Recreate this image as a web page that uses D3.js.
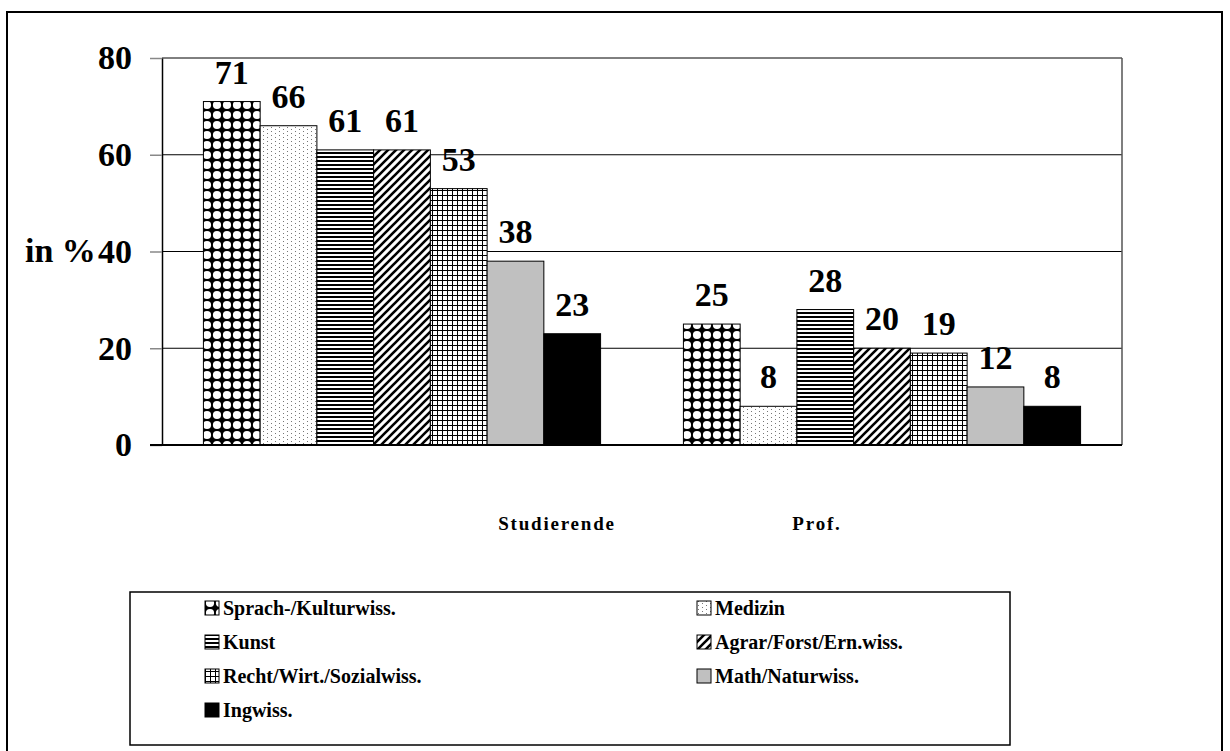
<!DOCTYPE html>
<html>
<head>
<meta charset="utf-8">
<script src="https://cdn.jsdelivr.net/npm/d3@7"></script>
<style>
  body { margin: 0; background: #fff; }
  svg text { font-family: "Liberation Serif", "Times New Roman", serif; font-weight: bold; }
</style>
</head>
<body>
<div class="vis-barchart"></div>
<script>
const categories = ['Studierende', 'Prof.'];
const series = ['Sprach-/Kulturwiss.', 'Medizin', 'Kunst', 'Agrar/Forst/Ern.wiss.',
  'Recht/Wirt./Sozialwiss.', 'Math/Naturwiss.', 'Ingwiss.'];
const studierende = [71, 66, 61, 61, 53, 38, 23];
const prof = [25, 8, 28, 20, 19, 12, 8];
const yTicks = [0, 20, 40, 60, 80];

const values = [studierende, prof];
const data = categories.map((c, i) => ({
  category: c,
  bars: series.map((s, j) => ({ series: s, value: values[i][j] }))
}));

const width = 1230;
const height = 751;
const plot = { left: 162, right: 1122, top: 58, bottom: 445 };

const svg = d3.select('.vis-barchart')
  .append('svg')
  .attr('width', width)
  .attr('height', height);

// fill patterns, one per series
const defs = svg.append('defs');
const pat = (id, w, h) => defs.append('pattern')
  .attr('id', id).attr('patternUnits', 'userSpaceOnUse')
  .attr('width', w).attr('height', h);

let p = pat('p0', 10, 10);
p.append('rect').attr('width', 10).attr('height', 10).attr('fill', '#000');
p.append('circle').attr('cx', 5).attr('cy', 5).attr('r', 4.1).attr('fill', '#fff');

p = pat('p1', 8, 4);
p.append('rect').attr('width', 8).attr('height', 4).attr('fill', '#fff');
p.append('rect').attr('x', 1).attr('y', 1).attr('width', 1).attr('height', 1).attr('fill', '#777');
p.append('rect').attr('x', 5).attr('y', 3).attr('width', 1).attr('height', 1).attr('fill', '#777');

p = pat('p2', 4, 4);
p.append('rect').attr('width', 4).attr('height', 4).attr('fill', '#fff');
p.append('rect').attr('y', 0).attr('width', 4).attr('height', 2).attr('fill', '#000');

p = pat('p3', 8, 8);
p.append('rect').attr('width', 8).attr('height', 8).attr('fill', '#fff');
p.append('path').attr('d', 'M-2,2 L2,-2 M0,8 L8,0 M6,10 L10,6')
  .attr('stroke', '#000').attr('stroke-width', 2.6);

p = pat('p4', 5, 5);
p.append('rect').attr('width', 5).attr('height', 5).attr('fill', '#fff');
p.append('path').attr('d', 'M0,0.5 H5 M0.5,0 V5').attr('stroke', '#000').attr('stroke-width', 1);

const fills = ['url(#p0)', 'url(#p1)', 'url(#p2)', 'url(#p3)', 'url(#p4)', '#c0c0c0', '#000'];
const color = d3.scaleOrdinal().domain(series).range(fills);

// outer frame
svg.append('rect')
  .attr('x', 7).attr('y', 12).attr('width', 1215).attr('height', 750)
  .attr('fill', 'none').attr('stroke', '#000').attr('stroke-width', 2);

const x0 = d3.scaleBand().domain(categories).range([plot.left, plot.right]).padding(0);
const x1 = d3.scaleBand().domain(series).range([0, x0.bandwidth()])
  .paddingInner(0).paddingOuter(0.73);
const y = d3.scaleLinear().domain([0, 80]).range([plot.bottom, plot.top]);

// gridlines
svg.append('g')
  .selectAll('line')
  .data(yTicks.filter((t) => t > 0))
  .join('line')
  .attr('x1', plot.left).attr('x2', plot.right)
  .attr('y1', (d) => y(d)).attr('y2', (d) => y(d))
  .attr('stroke', '#000').attr('stroke-width', 1);

// plot area right border
svg.append('line')
  .attr('x1', plot.right).attr('x2', plot.right)
  .attr('y1', plot.top).attr('y2', plot.bottom)
  .attr('stroke', '#555').attr('stroke-width', 1.5);

// Add Y axis
const yAxis = svg.append('g')
  .attr('transform', `translate(${plot.left},0)`)
  .call(d3.axisLeft(y).tickValues(yTicks).tickSize(12).tickSizeOuter(0).tickPadding(18));
yAxis.attr('font-size', 34);
yAxis.select('.domain').attr('stroke', '#000').attr('stroke-width', 1.5);
yAxis.selectAll('.tick line').attr('stroke', '#888').attr('stroke-width', 1.5);
yAxis.selectAll('.tick text').attr('fill', '#000');

// axis title, sits right against the "40" label as in the original
svg.append('text')
  .attr('x', 25).attr('y', y(40)).attr('dy', '0.32em')
  .attr('font-size', 34).text('in %');

// bars
const groups = svg.append('g')
  .selectAll('g')
  .data(data)
  .join('g')
  .attr('transform', (d) => `translate(${x0(d.category)},0)`);

groups.selectAll('rect')
  .data((d) => d.bars)
  .join('rect')
  .attr('x', (d) => x1(d.series))
  .attr('y', (d) => y(d.value))
  .attr('width', x1.bandwidth())
  .attr('height', (d) => y(0) - y(d.value))
  .attr('fill', (d) => color(d.series))
  .attr('stroke', '#000').attr('stroke-width', 1);

groups.selectAll('text')
  .data((d) => d.bars)
  .join('text')
  .attr('x', (d) => x1(d.series) + x1.bandwidth() / 2)
  .attr('y', (d) => y(d.value) - 18)
  .attr('text-anchor', 'middle')
  .attr('font-size', 34)
  .text((d) => d.value);

// x axis baseline
svg.append('line')
  .attr('x1', plot.left - 12).attr('x2', plot.right)
  .attr('y1', y(0)).attr('y2', y(0))
  .attr('stroke', '#000').attr('stroke-width', 2);

// category labels (drawn offset from the bar groups, as in the original)
const xLabel = d3.scalePoint().domain(categories).range([557, 817]);
svg.append('g')
  .selectAll('text')
  .data(categories)
  .join('text')
  .attr('x', (d) => xLabel(d))
  .attr('y', 530)
  .attr('text-anchor', 'middle')
  .attr('font-size', 19)
  .attr('letter-spacing', 1.8)
  .text((d) => d);

// legend
svg.append('rect')
  .attr('x', 130).attr('y', 592).attr('width', 880).attr('height', 153)
  .attr('fill', '#fff').attr('stroke', '#000').attr('stroke-width', 1.5);

const legend = svg.append('g')
  .selectAll('g')
  .data(series)
  .join('g')
  .attr('transform', (d, i) => `translate(${i % 2 === 0 ? 205 : 697},${608 + Math.floor(i / 2) * 34})`);

legend.append('rect')
  .attr('x', 0).attr('y', -7).attr('width', 14).attr('height', 14)
  .attr('fill', (d) => color(d))
  .attr('stroke', '#000').attr('stroke-width', 1);

legend.append('text')
  .attr('x', 18).attr('y', 0).attr('dy', '0.35em')
  .attr('font-size', 20)
  .text((d) => d);
</script>
</body>
</html>
